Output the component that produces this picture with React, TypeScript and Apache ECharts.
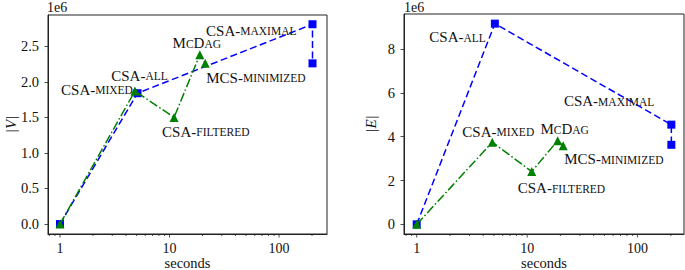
import React, { useEffect, useRef } from "react";
import * as echarts from "echarts";

// ---- data ----
const xBlue = [1, 5.1, 202, 202];
const vBlue = [0, 1.84e6, 2.81e6, 2.26e6];
const eBlue = [0, 9.16e6, 4.55e6, 3.63e6];
const blueNames = ["", "CSA-all", "CSA-maximal", ""];

const xGreen = [1, 4.83, 11, 18.9, 21.2];
const vGreen = [0, 1.87e6, 1.5e6, 2.38e6, 2.26e6];
const eGreen = [0, 3.75e6, 2.41e6, 3.82e6, 3.59e6];
const greenNames = ["", "CSA-mixed", "CSA-filtered", "McDag", "MCS-minimized"];

const majorTicks = [1, 10, 100];
const minorTicks = [0.8, 0.9, 2, 3, 4, 5, 6, 7, 8, 9, 20, 30, 40, 50, 60, 70, 80, 90, 200];
const leftYTicks = [0, 0.5e6, 1e6, 1.5e6, 2e6, 2.5e6];
const rightYTicks = [0, 2e6, 4e6, 6e6, 8e6];

// ---- layout (label placement relative to point) ----
type LP = { dx: number; dy: number; align: string };
const leftBlueLP: LP[] = [
  { dx: 0, dy: 0, align: "center" },
  { dx: 2, dy: -18, align: "center" },
  { dx: -16, dy: 6, align: "right" },
  { dx: 0, dy: 0, align: "center" },
];
const leftGreenLP: LP[] = [
  { dx: 0, dy: 0, align: "center" },
  { dx: -2, dy: -2, align: "right" },
  { dx: -12, dy: 14, align: "left" },
  { dx: -3, dy: -12, align: "center" },
  { dx: 1, dy: 14, align: "left" },
];
const rightBlueLP: LP[] = [
  { dx: 0, dy: 0, align: "center" },
  { dx: -9, dy: 13, align: "right" },
  { dx: -17, dy: -24, align: "right" },
  { dx: 0, dy: 0, align: "center" },
];
const rightGreenLP: LP[] = [
  { dx: 0, dy: 0, align: "center" },
  { dx: 6, dy: -11, align: "center" },
  { dx: -14, dy: 16, align: "left" },
  { dx: 7, dy: -12, align: "center" },
  { dx: 1, dy: 13, align: "left" },
];

const FONT = "Liberation Serif";
const INK = "#111";

function smallCaps(name: string): string {
  let out = "";
  let cur = "";
  let curType = "";
  for (const ch of name) {
    const t = ch >= "a" && ch <= "z" ? "s" : "c";
    if (t !== curType && cur) {
      out += `{${curType}|${curType === "s" ? cur.toUpperCase() : cur}}`;
      cur = "";
    }
    curType = t;
    cur += ch;
  }
  if (cur) out += `{${curType}|${curType === "s" ? cur.toUpperCase() : cur}}`;
  return out;
}

const rich = {
  c: { fontFamily: FONT, fontSize: 15, color: INK, verticalAlign: "bottom", lineHeight: 16 },
  s: { fontFamily: FONT, fontSize: 11.5, color: INK, verticalAlign: "bottom", lineHeight: 16, padding: [0, 0, 1, 0] },
};

function buildData(xs: number[], ys: number[], names: string[], lps: LP[]) {
  return xs.map((x, i) => {
    const item: any = { value: [x, ys[i]] };
    if (names[i]) {
      item.label = {
        show: true,
        position: "inside",
        offset: [lps[i].dx, lps[i].dy],
        align: lps[i].align,
        verticalAlign: "middle",
        formatter: smallCaps(names[i]),
        rich,
      };
    }
    return item;
  });
}

function tickSeries(xAxisIndex: number, yAxisIndex: number, yMin: number) {
  const data = [
    ...majorTicks.map((v) => [v, yMin, 3.5]),
    ...minorTicks.map((v) => [v, yMin, 2]),
  ];
  return {
    type: "custom",
    xAxisIndex,
    yAxisIndex,
    silent: true,
    clip: false,
    data,
    encode: { x: 0, y: 1 },
    renderItem: (params: any, api: any) => {
      const p = api.coord([api.value(0), api.value(1)]);
      const len = api.value(2);
      return {
        type: "line",
        shape: { x1: p[0], y1: p[1], x2: p[0], y2: p[1] + len },
        style: { stroke: "#222", lineWidth: 0.8 },
      };
    },
  };
}

const L_YMIN = -0.14e6, L_YMAX = 2.94e6;
const R_YMIN = -0.44e6, R_YMAX = 9.6e6;

export default function App() {
  const ref = useRef<HTMLDivElement>(null);
  useEffect(() => {
    document.body.style.margin = "0";
    const chart = echarts.init(ref.current!, undefined, { renderer: "svg" });
    const xAxisBase = (min: number, max: number, gridIndex: number) => ({
      type: "log",
      logBase: 10,
      gridIndex,
      min,
      max,
      name: "seconds",
      nameLocation: "middle",
      nameGap: 22,
      nameMoveOverlap: false,
      nameTextStyle: { fontFamily: FONT, fontSize: 14.5, color: INK, lineHeight: 13 },
      axisLine: { show: true, onZero: false, lineStyle: { color: "#222", width: 1 } },
      axisTick: { show: false },
      splitLine: { show: false },
      minorTick: { show: false },
      axisLabel: {
        fontFamily: FONT,
        fontSize: 14,
        lineHeight: 13,
        color: INK,
        margin: 8,
        showMinLabel: false,
        showMaxLabel: false,
        formatter: (v: number) => {
          const r = Math.round(v);
          return majorTicks.includes(r) && Math.abs(v - r) < 1e-6 ? String(r) : "";
        },
      },
    });
    const yAxisBase = (
      min: number,
      max: number,
      gridIndex: number,
      ticks: number[],
      name: string,
      gap: number,
      digits: number
    ) => ({
      type: "value",
      gridIndex,
      min,
      max,
      splitNumber: 5,
      name,
      nameLocation: "middle",
      nameRotate: 90,
      nameGap: gap,
      nameMoveOverlap: false,
      nameTextStyle: { fontFamily: FONT, fontSize: 15, color: INK, fontStyle: "italic", lineHeight: 14 },
      axisLine: { show: true, onZero: false, lineStyle: { color: "#222", width: 1 } },
      axisTick: { show: true, length: 3.5, lineStyle: { color: "#222", width: 0.8 } },
      splitLine: { show: false },
      axisLabel: {
        fontFamily: FONT,
        fontSize: 14.5,
        color: INK,
        margin: 9,
        showMinLabel: false,
        showMaxLabel: false,
        formatter: (v: number) =>
          ticks.some((t) => Math.abs(t - v) < 1) ? (v / 1e6).toFixed(digits) : "",
      },
    });
    chart.setOption({
      animation: false,
      grid: [
        {
          left: 48, top: 15, width: 279, height: 219,
          show: true, borderColor: "#222", borderWidth: 1,
          containLabel: false, outerBoundsMode: "none",
        },
        {
          left: 404, top: 14, width: 280, height: 220,
          show: true, borderColor: "#222", borderWidth: 1,
          containLabel: false, outerBoundsMode: "none",
        },
      ],
      xAxis: [xAxisBase(0.777, 274, 0), xAxisBase(0.767, 263, 1)],
      yAxis: [
        yAxisBase(L_YMIN, L_YMAX, 0, leftYTicks, "|V|", 30, 1),
        yAxisBase(R_YMIN, R_YMAX, 1, rightYTicks, "|E|", 26, 0),
      ],
      graphic: [
        { type: "text", left: 47, top: 0, style: { text: "1e6", fontFamily: FONT, fontSize: 14, fill: INK } },
        { type: "text", left: 404, top: 0, style: { text: "1e6", fontFamily: FONT, fontSize: 14, fill: INK } },
      ],
      series: [
        tickSeries(0, 0, L_YMIN),
        tickSeries(1, 1, R_YMIN),
        {
          type: "line",
          xAxisIndex: 0,
          yAxisIndex: 0,
          data: buildData(xBlue, vBlue, blueNames, leftBlueLP),
          symbol: "rect",
          symbolSize: 8,
          lineStyle: { color: "#0000ff", width: 1.5, type: [7, 3.5] },
          itemStyle: { color: "#0000ff" },
          z: 3,
        },
        {
          type: "line",
          xAxisIndex: 0,
          yAxisIndex: 0,
          data: buildData(xGreen, vGreen, greenNames, leftGreenLP),
          symbol: "triangle",
          symbolSize: 9,
          lineStyle: { color: "#008000", width: 1.5, type: [9, 2.5, 1.5, 2.5] },
          itemStyle: { color: "#008000" },
          z: 4,
        },
        {
          type: "line",
          xAxisIndex: 1,
          yAxisIndex: 1,
          data: buildData(xBlue, eBlue, blueNames, rightBlueLP),
          symbol: "rect",
          symbolSize: 8,
          lineStyle: { color: "#0000ff", width: 1.5, type: [7, 3.5] },
          itemStyle: { color: "#0000ff" },
          z: 3,
        },
        {
          type: "line",
          xAxisIndex: 1,
          yAxisIndex: 1,
          data: buildData(xGreen, eGreen, greenNames, rightGreenLP),
          symbol: "triangle",
          symbolSize: 9,
          lineStyle: { color: "#008000", width: 1.5, type: [9, 2.5, 1.5, 2.5] },
          itemStyle: { color: "#008000" },
          z: 4,
        },
      ],
    });
    return () => chart.dispose();
  }, []);
  return <div ref={ref} style={{ width: 685, height: 270 }} />;
}
